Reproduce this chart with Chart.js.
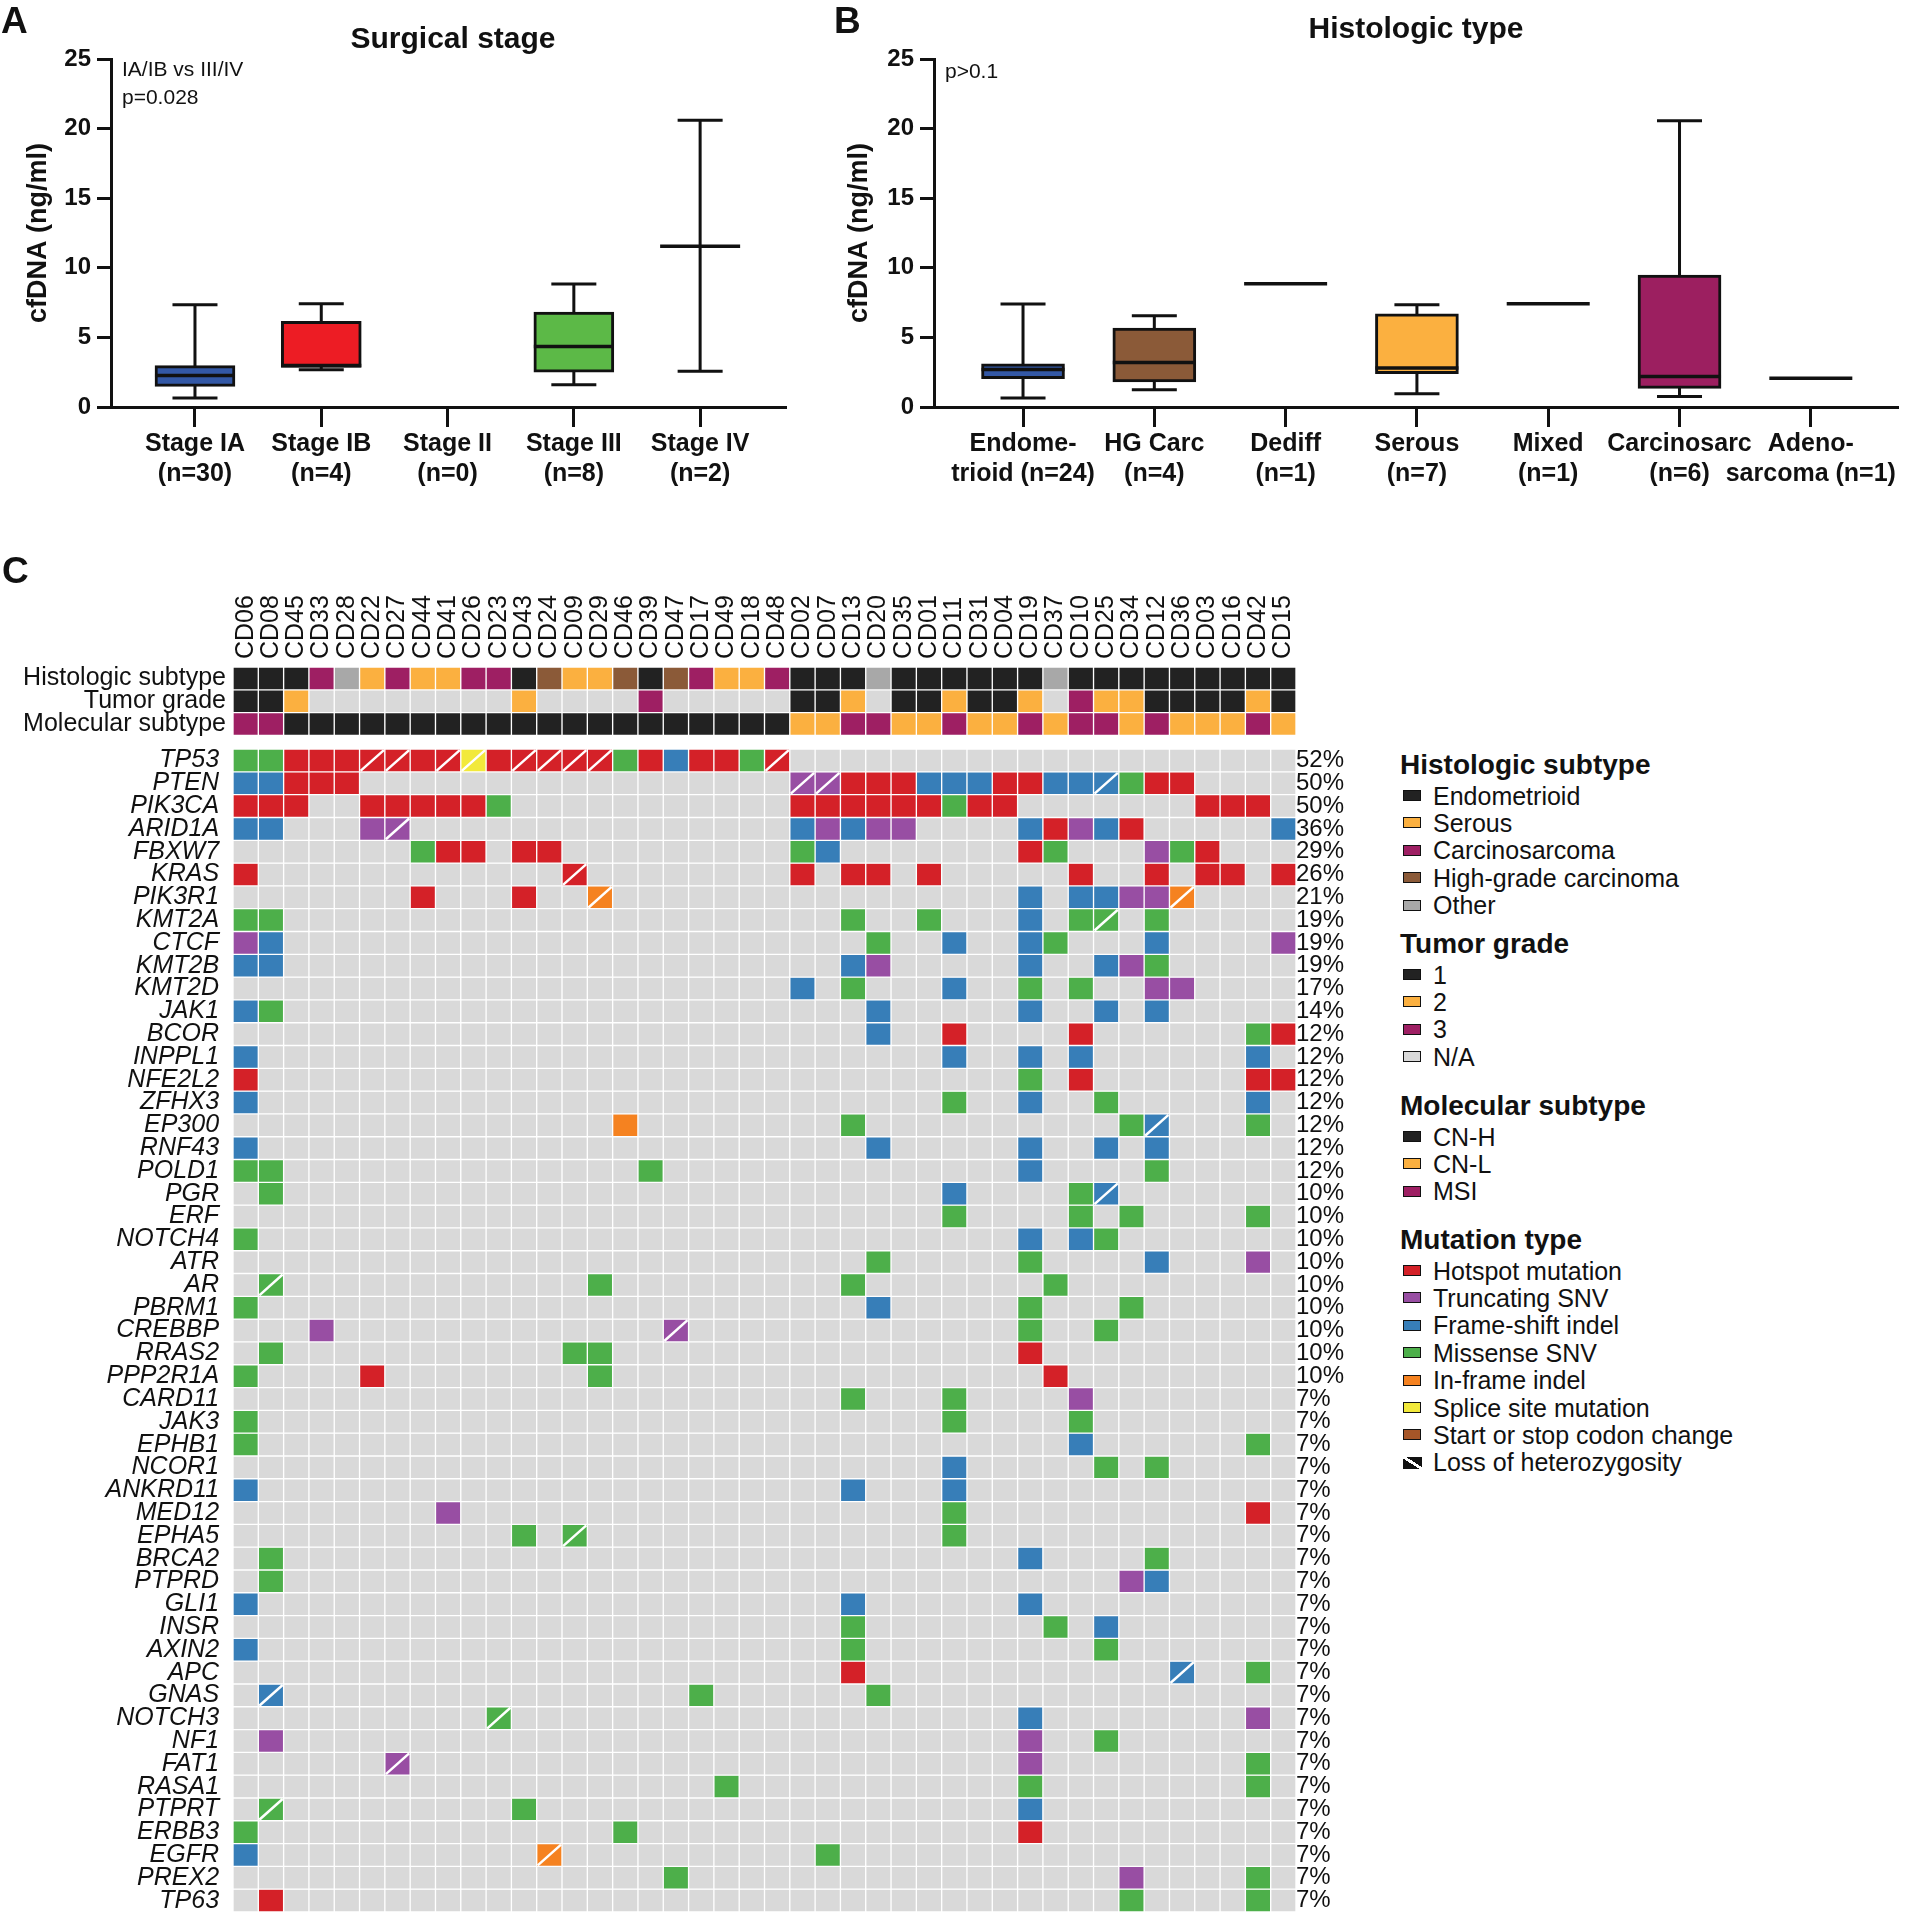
<!DOCTYPE html>
<html>
<head>
<meta charset="utf-8">
<title>cfDNA and mutation landscape</title>
<script src="https://cdn.jsdelivr.net/npm/chart.js@4.4.1/dist/chart.umd.min.js"></script>
<style>
  html, body { margin: 0; padding: 0; background: #fff; }
  body { position: relative; width: 1917px; height: 1920px; overflow: hidden;
         font-family: 'Liberation Sans', Arial, Helvetica, sans-serif; color: #111; }
  canvas { position: absolute; }
  .txt { position: absolute; line-height: 1; white-space: nowrap; }
  .sw { position: absolute; width: 16px; height: 9px; border: 1.5px solid #111; }
</style>
</head>
<body>
<canvas id="stageChart" width="800" height="500" style="left:0px;top:0px"></canvas>
<canvas id="histChart" width="1097" height="500" style="left:820px;top:0px"></canvas>
<canvas id="oncoChart" width="1360" height="1340" style="left:0px;top:580px"></canvas>
<script>
// --- A: cfDNA (ng/ml) by surgical stage, box stats
const stageLabels = [['Stage IA', '(n=30)'], ['Stage IB', '(n=4)'], ['Stage II', '(n=0)'], ['Stage III', '(n=8)'], ['Stage IV', '(n=2)']];
const stageMin    = [0.65, 2.68, null, 1.60, 2.56];
const stageQ1     = [1.48, 2.85, null, 2.51, null];
const stageMedian = [2.27, 2.98, null, 4.35, 11.54];
const stageQ3     = [2.97, 6.15, null, 6.82, null];
const stageMax    = [7.35, 7.42, null, 8.83, 20.60];
const stageColors = ['#3358a6', '#ed1c24', '#ffffff', '#5cb947', '#ffffff'];

// --- B: cfDNA by histologic type
const histLabels = [['Endome-', 'trioid (n=24)'], ['HG Carc', '(n=4)'], ['Dediff', '(n=1)'], ['Serous', '(n=7)'], ['Mixed', '(n=1)'], ['Carcinosarc', '(n=6)'], ['Adeno-', 'sarcoma (n=1)']];
const histMin    = [0.65, 1.24, 8.86, 0.96, 7.42, 0.76, 2.06];
const histQ1     = [2.03, 1.80, null, 2.39, null, 1.34, null];
const histMedian = [2.70, 3.20, 8.86, 2.80, 7.42, 2.20, 2.06];
const histQ3     = [3.11, 5.67, null, 6.70, null, 9.48, null];
const histMax    = [7.40, 6.56, 8.86, 7.35, 7.42, 20.57, 2.06];
const histColors = ['#3358a6', '#8b5a38', '#ffffff', '#fbb040', '#ffffff', '#9c1f60', '#ffffff'];

// --- C: oncoprint
const samples = ['CD06', 'CD08', 'CD45', 'CD33', 'CD28', 'CD22', 'CD27', 'CD44', 'CD41', 'CD26', 'CD23', 'CD43', 'CD24', 'CD09',
  'CD29', 'CD46', 'CD39', 'CD47', 'CD17', 'CD49', 'CD18', 'CD48', 'CD02', 'CD07', 'CD13', 'CD20', 'CD35', 'CD01',
  'CD11', 'CD31', 'CD04', 'CD19', 'CD37', 'CD10', 'CD25', 'CD34', 'CD12', 'CD36', 'CD03', 'CD16', 'CD42', 'CD15'];
// E endometrioid, S serous, C carcinosarcoma, H high-grade carcinoma, O other
const histology = 'EEECOSCSSCCEHSSHEHCSSCEEEOEEEEEEOEEEEEEEEE'.split('');
// 1, 2, 3, N = N/A
const grade = '112NNNNNNNN2NNNN3NNNNN112N112112N322111121'.split('');
// H CN-H, L CN-L, M MSI
const molecular = 'MMHHHHHHHHHHHHHHHHHHHHLLMMLLMLLMLMMLMLLLML'.split('');

const genes = ['TP53', 'PTEN', 'PIK3CA', 'ARID1A', 'FBXW7', 'KRAS', 'PIK3R1', 'KMT2A', 'CTCF', 'KMT2B', 'KMT2D', 'JAK1',
  'BCOR', 'INPPL1', 'NFE2L2', 'ZFHX3', 'EP300', 'RNF43', 'POLD1', 'PGR', 'ERF', 'NOTCH4', 'ATR', 'AR', 'PBRM1',
  'CREBBP', 'RRAS2', 'PPP2R1A', 'CARD11', 'JAK3', 'EPHB1', 'NCOR1', 'ANKRD11', 'MED12', 'EPHA5', 'BRCA2', 'PTPRD',
  'GLI1', 'INSR', 'AXIN2', 'APC', 'GNAS', 'NOTCH3', 'NF1', 'FAT1', 'RASA1', 'PTPRT', 'ERBB3', 'EGFR', 'PREX2', 'TP63'];
const genePct = [52, 50, 50, 36, 29, 26, 21, 19, 19, 19, 17, 14,
  12, 12, 12, 12, 12, 12, 12,
  10, 10, 10, 10, 10, 10, 10, 10, 10,
  7, 7, 7, 7, 7, 7, 7, 7, 7, 7, 7, 7, 7, 7, 7, 7, 7, 7, 7, 7, 7, 7, 7];
// "column+code": H hotspot, T truncating SNV, F frame-shift indel, M missense SNV,
// I in-frame indel, S splice site; lower case = with loss of heterozygosity
const mutationCalls = [
  '0M 1M 2H 3H 4H 5h 6h 7H 8h 9s 10H 11h 12h 13h 14h 15M 16H 17F 18H 19H 20M 21h',
  '0F 1F 2H 3H 4H 22t 23t 24H 25H 26H 27F 28F 29F 30H 31H 32F 33F 34f 35M 36H 37H',
  '0H 1H 2H 5H 6H 7H 8H 9H 10M 22H 23H 24H 25H 26H 27H 28M 29H 30H 38H 39H 40H',
  '0F 1F 5T 6t 22F 23T 24F 25T 26T 31F 32H 33T 34F 35H 41F',
  '7M 8H 9H 11H 12H 22M 23F 31H 32M 36T 37M 38H',
  '0H 13h 22H 24H 25H 27H 33H 36H 38H 39H 41H',
  '7H 11H 14i 31F 33F 34F 35T 36T 37i',
  '0M 1M 24M 27M 31F 33M 34m 36M',
  '0T 1F 25M 28F 31F 32M 36F 41T',
  '0F 1F 24F 25T 31F 34F 35T 36M',
  '22F 24M 28F 31M 33M 36T 37T',
  '0F 1M 25F 31F 34F 36F',
  '25F 28H 33H 40M 41H',
  '0F 28F 31F 33F 40F',
  '0H 31M 33H 40H 41H',
  '0F 28M 31F 34M 40F',
  '15I 24M 35M 36f 40M',
  '0F 25F 31F 34F 36F',
  '0M 1M 16M 31F 36M',
  '1M 28F 33M 34f',
  '28M 33M 35M 40M',
  '0M 31F 33F 34M',
  '25M 31M 36F 40T',
  '1m 14M 24M 32M',
  '0M 25F 31M 35M',
  '3T 17t 31M 34M',
  '1M 13M 14M 31H',
  '0M 5H 14M 32H',
  '24M 28M 33T',
  '0M 28M 33M',
  '0M 33F 40M',
  '28F 34M 36M',
  '0F 24F 28F',
  '8T 28M 40H',
  '11M 13m 28M',
  '1M 31F 36M',
  '1M 35T 36F',
  '0F 24F 31F',
  '24M 32M 34F',
  '0F 24M 34M',
  '24H 37f 40M',
  '1f 18M 25M',
  '10m 31F 40T',
  '1T 31T 34M',
  '6t 31T 40M',
  '19M 31M 40M',
  '1m 11M 31F',
  '0M 15M 31H',
  '0F 12i 23M',
  '17M 35T 40M',
  '1H 35M 40M'
];

const cellColors = { '.': '#d9d9d9', H: '#d42128', T: '#984ea3', F: '#377eb8', M: '#4daf4a', I: '#f58220', S: '#f2e93b', C: '#a65628' };
const histColor = { E: '#222222', S: '#fbb040', C: '#9e1f63', H: '#8b5a38', O: '#a8a8a8' };
const gradeColor = { '1': '#222222', '2': '#fbb040', '3': '#9e1f63', N: '#d9d9d9' };
const molColor = { H: '#222222', L: '#fbb040', M: '#9e1f63' };

Chart.defaults.font.family = "'Liberation Sans', Arial, Helvetica, sans-serif";
Chart.defaults.color = '#111';

function drawBoxPlot(id, o) {
  // whiskers + caps behind the boxes, medians on top
  const whiskers = {
    id: 'whiskers',
    beforeDatasetsDraw(chart) {
      const { ctx, scales: { x, y } } = chart;
      ctx.save();
      ctx.strokeStyle = '#111';
      ctx.lineWidth = 3;
      o.labels.forEach((_, i) => {
        if (o.min[i] == null || o.min[i] === o.max[i]) return;
        const px = x.getPixelForValue(i);
        const lo = y.getPixelForValue(o.min[i]);
        const hi = y.getPixelForValue(o.max[i]);
        const half = o.capPx / 2;
        ctx.beginPath();
        ctx.moveTo(px, lo); ctx.lineTo(px, hi);
        ctx.moveTo(px - half, lo); ctx.lineTo(px + half, lo);
        ctx.moveTo(px - half, hi); ctx.lineTo(px + half, hi);
        ctx.stroke();
      });
      ctx.restore();
    },
    afterDatasetsDraw(chart) {
      const { ctx, scales: { x, y } } = chart;
      ctx.save();
      ctx.strokeStyle = '#111';
      ctx.lineWidth = 3.5;
      o.labels.forEach((_, i) => {
        if (o.med[i] == null) return;
        const px = x.getPixelForValue(i);
        const py = y.getPixelForValue(o.med[i]);
        ctx.beginPath();
        ctx.moveTo(px - o.boxPx / 2, py); ctx.lineTo(px + o.boxPx / 2, py);
        ctx.stroke();
      });
      ctx.restore();
    }
  };

  const boxes = o.labels.map((_, i) => ({ x: i, y: [o.q1[i], o.q3[i]] })).filter((d, i) => o.q1[i] != null);

  return new Chart(document.getElementById(id), {
    type: 'bar',
    data: {
      datasets: [{
        data: boxes,
        backgroundColor: c => (c.raw ? o.colors[c.raw.x] : '#fff'),
        borderColor: '#111',
        borderWidth: 3,
        borderSkipped: false,
        barThickness: o.boxPx
      }]
    },
    options: {
      responsive: false,
      animation: false,
      devicePixelRatio: 1,
      layout: { padding: { top: 59, right: o.padRight, left: 0, bottom: 0 } },
      plugins: { legend: { display: false }, tooltip: { enabled: false } },
      scales: {
        x: {
          type: 'linear',
          offset: false,
          min: o.xMin,
          max: o.xMax,
          afterBuildTicks: s => { s.ticks = o.labels.map((_, i) => ({ value: i })); },
          afterFit: s => { s.height = 93; },
          ticks: { callback: (v, i) => o.labels[i], font: { size: 25, weight: 'bold' }, padding: 2, maxRotation: 0, autoSkip: false, color: '#111' },
          grid: { offset: false, drawOnChartArea: false, drawTicks: true, tickLength: 20, tickWidth: 3, tickColor: '#111' },
          border: { display: true, width: 3, color: '#111' }
        },
        y: {
          min: 0,
          max: 25,
          afterFit: s => { s.width = o.yWidth; },
          ticks: { stepSize: 5, font: { size: 24, weight: 'bold' }, padding: 6, color: '#111' },
          grid: { drawOnChartArea: false, tickLength: 14, tickWidth: 3, tickColor: '#111' },
          border: { display: true, width: 3, color: '#111' },
          title: { display: true, text: 'cfDNA (ng/ml)', font: { size: 27, weight: 'bold' }, padding: { top: o.titlePad, bottom: 0 }, color: '#111' }
        }
      }
    },
    plugins: [whiskers]
  });
}

drawBoxPlot('stageChart', {
  labels: stageLabels, min: stageMin, q1: stageQ1, med: stageMedian, q3: stageQ3, max: stageMax, colors: stageColors,
  xMin: -0.665, xMax: 4.68, boxPx: 80, capPx: 45, yWidth: 111, padRight: 14, titlePad: 22
});
drawBoxPlot('histChart', {
  labels: histLabels, min: histMin, q1: histQ1, med: histMedian, q3: histQ3, max: histMax, colors: histColors,
  xMin: -0.678, xMax: 6.664, boxPx: 83, capPx: 45, yWidth: 114, padRight: 19, titlePad: 23
});

// --- oncoprint as stacked unit bars
const callGrid = mutationCalls.map(row => {
  const cells = samples.map(() => '.');
  row.split(' ').forEach(tok => { cells[parseInt(tok, 10)] = tok.replace(/^\d+/, ''); });
  return cells;
});
const isLoh = c => c !== '.' && c === c.toLowerCase();

const GAP_ROWS = 0.6;
const GENE_OFFSET = 4;
const rowCenters = [0.5, 1.5, 2.5].concat(genes.map((_, i) => 3 + GAP_ROWS + i + 0.5));
// gene names carry a trailing space so they sit a little further from the grid than the annotation names
const leftLabels = ['Histologic subtype', 'Tumor grade', 'Molecular subtype'].concat(genes.map(g => g + ' '));
const rightLabels = ['', '', ''].concat(genePct.map(p => p + '%'));
const yTop = 3 + GAP_ROWS + genes.length;
const setRowTicks = s => { s.ticks = rowCenters.map(v => ({ value: v })); };
// fixed axis width, and no extra label overhang padding above/below the grid
const fixRowAxis = w => s => { s.width = w; s.paddingTop = 0; s.paddingBottom = 0; };

const oncoDatasets = [
  { label: 'Histologic subtype', data: samples.map(() => 1), backgroundColor: histology.map(c => histColor[c]) },
  { label: 'Tumor grade', data: samples.map(() => 1), backgroundColor: grade.map(c => gradeColor[c]) },
  { label: 'Molecular subtype', data: samples.map(() => 1), backgroundColor: molecular.map(c => molColor[c]) },
  { label: 'gap', data: samples.map(() => GAP_ROWS), backgroundColor: 'rgba(0,0,0,0)', borderWidth: 0 }
].concat(genes.map((g, gi) => ({
  label: g,
  data: samples.map(() => 1),
  backgroundColor: callGrid[gi].map(c => cellColors[c.toUpperCase()])
})));

const lohSlash = {
  id: 'lohSlash',
  afterDatasetsDraw(chart) {
    const ctx = chart.ctx;
    ctx.save();
    ctx.strokeStyle = '#ffffff';
    ctx.lineWidth = 2.5;
    callGrid.forEach((cells, gi) => {
      const meta = chart.getDatasetMeta(GENE_OFFSET + gi);
      cells.forEach((c, si) => {
        if (!isLoh(c)) return;
        const { x, y, base, width } = meta.data[si].getProps(['x', 'y', 'base', 'width'], true);
        const l = x - width / 2 + 1, r = x + width / 2 - 1;
        const t = Math.min(y, base) + 1, b = Math.max(y, base) - 1;
        ctx.beginPath();
        ctx.moveTo(l, b);
        ctx.lineTo(r, t);
        ctx.stroke();
      });
    });
    ctx.restore();
  }
};

new Chart(document.getElementById('oncoChart'), {
  type: 'bar',
  data: { labels: samples, datasets: oncoDatasets },
  options: {
    responsive: false,
    animation: false,
    devicePixelRatio: 1,
    layout: { padding: { top: 0, left: 0, right: 0, bottom: 8 } },
    datasets: { bar: { borderColor: '#ffffff', borderWidth: 1, borderSkipped: false, categoryPercentage: 1, barPercentage: 1 } },
    plugins: { legend: { display: false }, tooltip: { enabled: false } },
    scales: {
      x: {
        type: 'category', position: 'top', stacked: true, offset: true,
        afterFit: s => { s.height = 87; },
        ticks: { autoSkip: false, minRotation: 90, maxRotation: 90, padding: 8, labelOffset: 30, font: { size: 25 }, color: '#111' },
        grid: { display: false, drawTicks: false }, border: { display: false }
      },
      y: {
        type: 'linear', position: 'left', stacked: true, reverse: true, min: 0, max: yTop,
        afterBuildTicks: setRowTicks,
        afterFit: fixRowAxis(233),
        ticks: {
          autoSkip: false, padding: 7, color: '#111',
          callback: (v, i) => leftLabels[i],
          font: c => ({ size: 25, style: c.index >= 3 ? 'italic' : 'normal' })
        },
        grid: { display: false, drawTicks: false }, border: { display: false }
      },
      pct: {
        type: 'linear', position: 'right', reverse: true, min: 0, max: yTop,
        afterBuildTicks: setRowTicks,
        afterFit: fixRowAxis(64),
        ticks: { autoSkip: false, padding: 0, color: '#111', callback: (v, i) => rightLabels[i], font: { size: 24 } },
        grid: { display: false, drawTicks: false }, border: { display: false }
      }
    }
  },
  plugins: [lohSlash]
});

// --- free text and the grouped legend
function addText(text, x, y, size, weight, center) {
  const d = document.createElement('div');
  d.className = 'txt';
  d.textContent = text;
  d.style.fontSize = size + 'px';
  d.style.fontWeight = weight || 'normal';
  d.style.left = x + 'px';
  d.style.top = (y - size / 2) + 'px';
  if (center) d.style.transform = 'translateX(-50%)';
  document.body.appendChild(d);
}

addText('A', 1, 20, 37, 'bold');
addText('B', 834, 20, 37, 'bold');
addText('C', 2, 570, 37, 'bold');
addText('Surgical stage', 453, 38, 30, 'bold', true);
addText('Histologic type', 1416, 28, 30, 'bold', true);
addText('IA/IB vs III/IV', 122, 68, 21);
addText('p=0.028', 122, 96, 21);
addText('p>0.1', 945, 70, 21);

const legendGroups = [
  { title: 'Histologic subtype', y: 765, items: [['Endometrioid', histColor.E], ['Serous', histColor.S], ['Carcinosarcoma', histColor.C], ['High-grade carcinoma', histColor.H], ['Other', histColor.O]] },
  { title: 'Tumor grade', y: 944, items: [['1', gradeColor['1']], ['2', gradeColor['2']], ['3', gradeColor['3']], ['N/A', gradeColor.N]] },
  { title: 'Molecular subtype', y: 1106, items: [['CN-H', molColor.H], ['CN-L', molColor.L], ['MSI', molColor.M]] },
  { title: 'Mutation type', y: 1240, items: [['Hotspot mutation', cellColors.H], ['Truncating SNV', cellColors.T], ['Frame-shift indel', cellColors.F],
    ['Missense SNV', cellColors.M], ['In-frame indel', cellColors.I], ['Splice site mutation', cellColors.S],
    ['Start or stop codon change', cellColors.C], ['Loss of heterozygosity', 'loh']] }
];

legendGroups.forEach(g => {
  addText(g.title, 1400, g.y, 28, 'bold');
  g.items.forEach(([name, color], k) => {
    const iy = g.y + 31 + k * 27.4;
    const sw = document.createElement('div');
    sw.className = 'sw';
    sw.style.left = '1403px';
    sw.style.top = (iy - 6) + 'px';
    if (color === 'loh') {
      sw.style.border = 'none';
      sw.style.width = '19px';
      sw.style.height = '12px';
      sw.style.background = 'linear-gradient(to top right, #111 0%, #111 44%, #fff 44%, #fff 58%, #111 58%, #111 100%)';
    } else {
      sw.style.background = color;
    }
    document.body.appendChild(sw);
    addText(name, 1433, iy, 25);
  });
});
</script>
</body>
</html>
